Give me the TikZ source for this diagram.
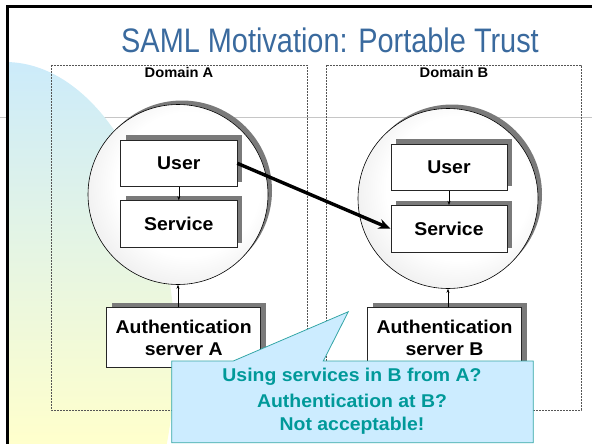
\documentclass[tikz,border=0pt]{standalone}
\usepackage{fontspec}
\setmainfont{Liberation Sans}
\newfontfamily\titlefont[FakeStretch=0.85]{Liberation Sans}
\newfontfamily\labelfont[FakeStretch=1.05]{Liberation Sans}
\usetikzlibrary{arrows.meta,shadows,calc}

\definecolor{titleblue}{HTML}{3A6A9E}
\definecolor{bgblue}{HTML}{CCEBFA}
\definecolor{bgmid}{HTML}{E8F5DC}
\definecolor{bgyellow}{HTML}{FFFFCC}
\definecolor{calloutfill}{HTML}{CCECFF}
\definecolor{calloutline}{HTML}{33A6A6}
\definecolor{calloutText}{HTML}{009999}
\definecolor{shadowgray}{HTML}{7A7A7A}
\definecolor{domainline}{HTML}{555555}
\definecolor{zonerim}{HTML}{CACACA}

% mostly white disc that greys out towards its rim
\pgfdeclareradialshading{zoneshade}{\pgfpoint{4bp}{4bp}}{%
  color(0bp)=(white); color(20bp)=(white); color(50bp)=(zonerim); color(70bp)=(zonerim)}

\tikzset{
  domainbox/.style={draw=domainline, line width=0.8pt, dash pattern=on 2pt off 1pt},
  domainlabel/.style={font=\labelfont\bfseries\fontsize{14}{16}\selectfont, anchor=base},
  zone/.style={circle, draw=black, line width=0.6pt, inner sep=0pt,
    minimum size=180pt, shade, shading=zoneshade,
    drop shadow={shadow xshift=4pt, shadow yshift=4pt, fill=shadowgray, opacity=1}},
  box/.style={draw=black!85, line width=0.7pt, fill=white, inner sep=0pt,
    minimum width=116.3pt, minimum height=46.7pt, align=center,
    font=\labelfont\bfseries\fontsize{18.5}{22.4}\selectfont,
    drop shadow={shadow xshift=5pt, shadow yshift=4.5pt, fill=shadowgray, opacity=1}},
  authbox/.style={box, minimum width=154pt, minimum height=60pt},
  thinarrow/.style={line width=0.5pt, -{Stealth[length=4pt,width=3pt]}},
  calloutline/.style={font=\labelfont\bfseries\fontsize{18.5}{22}\selectfont,
    text=calloutText, anchor=base}
}

\begin{document}
\begin{tikzpicture}[x=1pt,y=-1pt]
\useasboundingbox (0,0) rectangle (592,444);

% faint rule across the slide
\draw[gray!45, line width=0.8pt] (0,117) -- (592,117);

% soft background blob on the left
\begin{scope}
  \clip (7.5,6.5) rectangle (592,444);
  \clip (5,354) ellipse [x radius=170pt, y radius=292pt];
  \shade[top color=bgblue, middle color=bgmid, bottom color=bgyellow]
    (0,62) rectangle (180,444);
\end{scope}

% slide frame
\draw[line width=2.8pt] (7.5,450) |- (600,6.5);

% title
\node[font=\titlefont\fontsize{34}{34}\selectfont, text=titleblue, anchor=base]
  (title) at (330,52.7) {SAML Motivation: Portable Trust};

% domains
\draw[domainbox] (51,65) rectangle (307,410);
\draw[domainbox] (326,65) rectangle (581,410);
\node[domainlabel] (domA) at (179,77.5) {Domain A};
\node[domainlabel] (domB) at (454,77.5) {Domain B};

% trust zones
\node[zone] (cA) at (178,194.5) {};
\node[zone] (cB) at (448,198.5) {};

% components
\node[box] (uA) at (178.8,163.3) {User};
\node[box] (sA) at (178.8,224) {Service};
\node[box] (uB) at (449,167.3) {User};
\node[box] (sB) at (449,228.7) {Service};
\node[authbox] (aA) at (183.7,337.7) {Authentication\\server A};
\node[authbox] (aB) at (444.5,337.7) {Authentication\\server B};

% internal links
\draw[thinarrow] (uA.south) -- (sA.north);
\draw[thinarrow] (uB.south) -- (sB.north);
\draw[thinarrow] (aA.north -| cA.south) -- (cA.south);
\draw[thinarrow] (aB.north -| cB.south) -- (cB.south);

% cross-domain access
\draw[line width=3.4pt, -{Stealth[length=12pt,width=10pt]}] (uA.east) -- (sB.west);

% callout
\coordinate (tip) at (348.3,311.7);
\draw[fill=calloutfill, draw=calloutline, line width=0.8pt]
  (171.7,361) -- (233.3,361) -- (tip) -- (323.3,361) -- (533.3,361)
  -- (533.3,442.7) -- (171.7,442.7) -- cycle;
\node[calloutline] (q1) at (352,381.7) {Using services in B from A?};
\node[calloutline] (q2) at (352,407.7) {Authentication at B?};
\node[calloutline] (q3) at (352,430) {Not acceptable!};
\end{tikzpicture}
\end{document}
